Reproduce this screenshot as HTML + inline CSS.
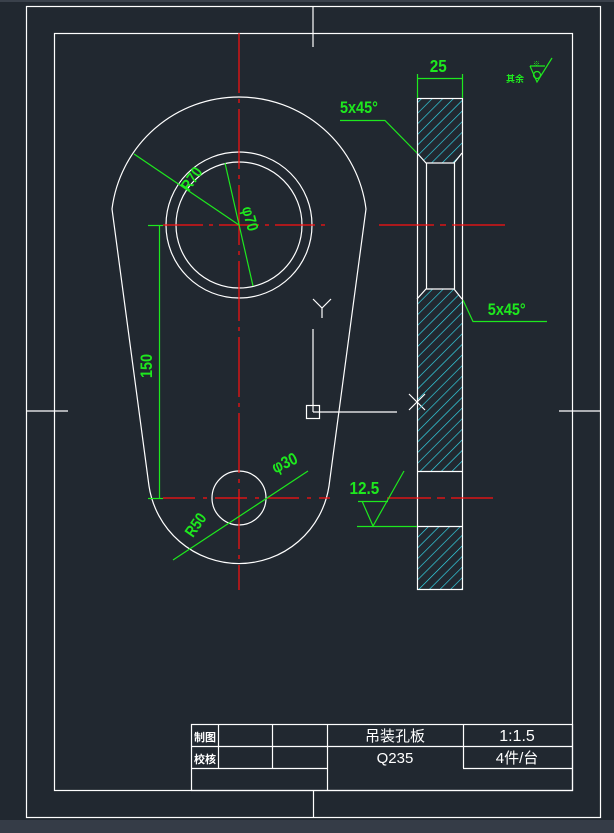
<!DOCTYPE html>
<html><head><meta charset="utf-8"><style>
html,body{margin:0;padding:0;background:#212830;}
svg{display:block}
text{font-family:"Liberation Sans","Noto Sans CJK SC",sans-serif;}
</style></head><body>
<svg width="614" height="833" viewBox="0 0 614 833" xmlns="http://www.w3.org/2000/svg">
<defs>
<pattern id="h" patternUnits="userSpaceOnUse" width="7.5" height="7.5" patternTransform="rotate(45)">
<line x1="0" y1="0" x2="0" y2="7.5" stroke="#35dcee" stroke-width="1.3"/>
</pattern>
</defs>
<rect width="614" height="833" fill="#212830"/>
<rect x="0" y="0" width="614" height="2" fill="#3a414b"/>
<rect x="0" y="820" width="614" height="13" fill="#353c47"/>
<g stroke="#fff" stroke-width="1.2" fill="none">
<rect x="26.5" y="6.5" width="574" height="811"/>
<rect x="54.5" y="33.5" width="518" height="757"/>
<line x1="313" y1="7" x2="313" y2="47"/>
<line x1="26" y1="411" x2="68" y2="411"/>
<line x1="559" y1="411" x2="600" y2="411"/>
<rect x="191.5" y="724.5" width="381" height="66"/>
<line x1="191" y1="746.5" x2="572" y2="746.5"/>
<line x1="191" y1="768.5" x2="327" y2="768.5"/>
<line x1="463" y1="768.5" x2="572" y2="768.5"/>
<line x1="218.5" y1="724" x2="218.5" y2="768"/>
<line x1="272.5" y1="724" x2="272.5" y2="768"/>
<line x1="327.5" y1="724" x2="327.5" y2="790"/>
<line x1="463.5" y1="724" x2="463.5" y2="768"/>
<line x1="313.5" y1="790" x2="313.5" y2="817"/>
<path d="M149,486 L112,209 A128,128 0 0 1 366,209 L329,486 A91,91 0 0 1 149,486 Z"/>
<circle cx="239" cy="225" r="73"/>
<circle cx="239" cy="225" r="63"/>
<circle cx="239" cy="498" r="27"/>
<line x1="313" y1="329" x2="313" y2="412"/>
<line x1="313" y1="412" x2="397" y2="412"/>
<rect x="306.5" y="405.5" width="13" height="13"/>
<path d="M313,299 L322,308 L331,299 M322,308 L322,318"/>
<path d="M409,394 L425,410 M425,394 L409,410"/>
</g>
<g>
<path d="M417,98 H462 V153 L454,163 H426 L417,153 Z" fill="url(#h)"/>
<path d="M426,289 H454 L462,299 V471 H417 V299 Z" fill="url(#h)"/>
<rect x="417" y="526" width="45" height="63" fill="url(#h)"/>
<g stroke="#fff" stroke-width="1.2" fill="none">
<rect x="417.5" y="98.5" width="45" height="491"/>
<path d="M417,153 L426,163 H454 L462,153"/>
<path d="M417,299 L426,289 H454 L462,299"/>
<line x1="426.5" y1="163" x2="426.5" y2="289"/>
<line x1="454.5" y1="163" x2="454.5" y2="289"/>
<line x1="417" y1="471.5" x2="462" y2="471.5"/>
<line x1="417" y1="526.5" x2="462" y2="526.5"/>
</g>
</g>
<g stroke="#ff1010" stroke-width="1.2" fill="none">
<line x1="239" y1="33" x2="239" y2="590" stroke-dasharray="60,6,4,6"/>
<line x1="163" y1="225" x2="330" y2="225" stroke-dasharray="40,6,4,6"/>
<line x1="379" y1="225" x2="505" y2="225" stroke-dasharray="55,6,6,6"/>
<line x1="163" y1="498" x2="330" y2="498" stroke-dasharray="32,8,4,8"/>
<line x1="387" y1="498" x2="493" y2="498" stroke-dasharray="44,6,8,6"/>
</g>
<g stroke="#1ee81e" stroke-width="1.2" fill="none">
<line x1="159.5" y1="225" x2="159.5" y2="498"/>
<line x1="148" y1="225.5" x2="163" y2="225.5"/>
<line x1="148" y1="498.5" x2="163" y2="498.5"/>
<line x1="134" y1="154" x2="239" y2="225"/>
<line x1="225" y1="163" x2="253" y2="286"/>
<line x1="173" y1="560" x2="308" y2="471"/>
<line x1="417" y1="78.5" x2="462" y2="78.5"/>
<line x1="417.5" y1="74" x2="417.5" y2="98"/>
<line x1="462.5" y1="74" x2="462.5" y2="98"/>
<path d="M340,120.5 H385 L417,153"/>
<path d="M463,300 L473,321.5 H547"/>
<path d="M358,501.5 H388 M362,501 L373,526 L404,471"/>
<line x1="357" y1="526.5" x2="417" y2="526.5"/>
<path d="M530,66 L537,82 L552,58 M530,66 H545"/>
<circle cx="537" cy="75" r="3.5"/>
</g>
<g fill="#1ee81e" font-weight="bold">
<text x="438" y="72" font-size="18" text-anchor="middle" transform="translate(66,0) scale(0.85,1)">25</text>
<text x="340" y="113" font-size="17" transform="translate(51,0) scale(0.85,1)">5x45°</text>
<text x="488" y="315" font-size="17" transform="translate(73,0) scale(0.85,1)">5x45°</text>
<text x="350" y="494" font-size="18" transform="translate(52,0) scale(0.85,1)">12.5</text>
<text transform="translate(152,366) rotate(-90) scale(0.85,1)" font-size="17" text-anchor="middle">150</text>
<text transform="translate(196,182) rotate(-55) scale(0.85,1)" font-size="16" text-anchor="middle">R70</text>
<text transform="translate(245,220) rotate(75) scale(0.85,1)" font-size="16" text-anchor="middle">φ70</text>
<text transform="translate(287,468) rotate(-25) scale(0.85,1)" font-size="17" text-anchor="middle">φ30</text>
<text transform="translate(200,528) rotate(-55) scale(0.85,1)" font-size="16" text-anchor="middle">R50</text>
<text x="506" y="82" font-size="9">其余</text>
<text x="533" y="66" font-size="7">※</text>
</g>
<g fill="#fff">
<text x="205" y="741" font-size="11" text-anchor="middle" font-weight="bold">制图</text>
<text x="205" y="763" font-size="11" text-anchor="middle" font-weight="bold">校核</text>
<text x="395" y="741" font-size="15" text-anchor="middle">吊装孔板</text>
<text x="395" y="763" font-size="15" text-anchor="middle">Q235</text>
<text x="517" y="741" font-size="16" text-anchor="middle">1:1.5</text>
<text x="517" y="763" font-size="15" text-anchor="middle">4件/台</text>
</g>
</svg>
</body></html>
